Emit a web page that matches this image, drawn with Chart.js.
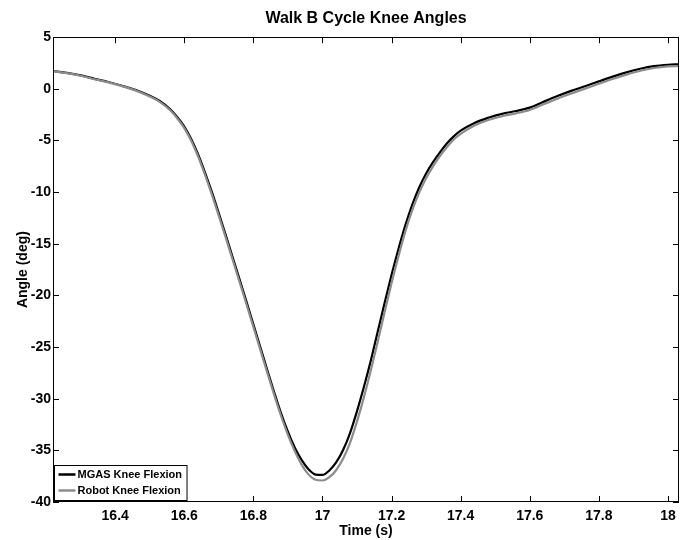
<!DOCTYPE html>
<html>
<head>
<meta charset="utf-8">
<title>Walk B Cycle Knee Angles</title>
<script src="https://cdn.jsdelivr.net/npm/chart.js@4.4.0/dist/chart.umd.min.js"></script>
<style>
  html, body { margin: 0; padding: 0; background: #fff; }
  #wrap { width: 690px; height: 540px; }
</style>
</head>
<body>
<div id="wrap"><canvas id="kneeChart" width="690" height="540"></canvas></div>
<script>
// ---- data ----
const timeS = [
  16.22, 16.26, 16.30, 16.34, 16.38, 16.42, 16.46, 16.50, 16.53, 16.56,
  16.58, 16.60, 16.62, 16.64, 16.66, 16.68, 16.70, 16.72, 16.74, 16.76,
  16.78, 16.80, 16.82, 16.84, 16.86, 16.88, 16.90, 16.92, 16.94, 16.96,
  16.98, 17.00, 17.02, 17.04, 17.06, 17.08, 17.10, 17.12, 17.14, 17.16,
  17.18, 17.20, 17.22, 17.24, 17.26, 17.28, 17.30, 17.32, 17.34, 17.36,
  17.38, 17.40, 17.44, 17.48, 17.52, 17.56, 17.60, 17.64, 17.68, 17.72,
  17.76, 17.80, 17.84, 17.88, 17.92, 17.96, 18.00, 18.03
];
const mgasKnee = [
  1.73, 1.55, 1.30, 0.97, 0.66, 0.30, -0.12, -0.68, -1.20, -2.00,
  -2.75, -3.65, -4.85, -6.35, -8.10, -10.0, -12.05, -14.15, -16.3, -18.45,
  -20.6, -22.8, -25.0, -27.2, -29.35, -31.4, -33.2, -34.75, -35.95, -36.85,
  -37.35, -37.38, -36.95, -36.15, -34.95, -33.3, -31.2, -28.85, -26.3, -23.5,
  -20.7, -18.0, -15.5, -13.2, -11.2, -9.55, -8.2, -7.1, -6.15, -5.3,
  -4.6, -4.05, -3.3, -2.8, -2.42, -2.15, -1.82, -1.25, -0.7, -0.2,
  0.25, 0.72, 1.18, 1.6, 1.95, 2.2, 2.33, 2.38
];
const robotKnee = [
  1.70, 1.52, 1.27, 0.93, 0.62, 0.26, -0.17, -0.74, -1.28, -2.10,
  -2.87, -3.80, -5.02, -6.55, -8.32, -10.25, -12.3, -14.4, -16.55, -18.7,
  -20.85, -23.05, -25.25, -27.45, -29.6, -31.65, -33.5, -35.1, -36.4, -37.35,
  -37.85, -37.92, -37.6, -36.9, -35.8, -34.25, -32.2, -29.85, -27.25, -24.45,
  -21.6, -18.8, -16.2, -13.8, -11.75, -10.05, -8.65, -7.5, -6.5, -5.65,
  -4.9, -4.35, -3.55, -3.02, -2.65, -2.38, -2.05, -1.5, -0.95, -0.45,
  0.02, 0.5, 0.96, 1.38, 1.75, 2.02, 2.17, 2.2
];
const seriesNames = ['MGAS Knee Flexion', 'Robot Knee Flexion'];
const xTicks = [16.4, 16.6, 16.8, 17, 17.2, 17.4, 17.6, 17.8, 18];
const yTicks = [5, 0, -5, -10, -15, -20, -25, -30, -35, -40];

const LINE_BLACK = '#000000';
const LINE_GRAY = '#8c8c8c';
const FONT_FAMILY = "'Liberation Sans', Arial, Helvetica, sans-serif";

function toPoints(vals) {
  return timeS.map((t, i) => ({ x: t, y: vals[i] }));
}

// MATLAB style box with inward ticks on all four sides
const framePlugin = {
  id: 'matlabFrame',
  afterDatasetsDraw(chart) {
    const { ctx, chartArea: a, scales } = chart;
    const tickLen = 6;
    ctx.save();
    ctx.strokeStyle = '#000';
    ctx.lineWidth = 1;
    ctx.beginPath();
    xTicks.forEach(v => {
      const px = Math.round(scales.x.getPixelForValue(v)) + 0.5;
      ctx.moveTo(px, a.bottom); ctx.lineTo(px, a.bottom - tickLen);
      ctx.moveTo(px, a.top); ctx.lineTo(px, a.top + tickLen);
    });
    yTicks.forEach(v => {
      const py = Math.round(scales.y.getPixelForValue(v)) + 0.5;
      ctx.moveTo(a.left, py); ctx.lineTo(a.left + tickLen, py);
      ctx.moveTo(a.right, py); ctx.lineTo(a.right - tickLen, py);
    });
    ctx.stroke();
    ctx.strokeRect(Math.round(a.left) + 0.5, Math.round(a.top) + 0.5,
      Math.round(a.right - a.left) - 1, Math.round(a.bottom - a.top) - 1);
    ctx.restore();
  }
};

// legend box in the lower left corner, inside the axes
const insideLegend = {
  id: 'insideLegend',
  afterDraw(chart) {
    const { ctx, chartArea: a } = chart;
    const colors = [LINE_BLACK, LINE_GRAY];
    ctx.save();
    ctx.font = 'bold 11px ' + FONT_FAMILY;
    const textW = Math.max(...seriesNames.map(s => ctx.measureText(s).width));
    const left = Math.round(a.left) + 1.5;
    const bottom = Math.round(a.bottom) - 1.5;
    const rowH = 16;
    const top = bottom - rowH * 2 - 3;
    const width = 24 + textW + 4;
    ctx.fillStyle = '#fff';
    ctx.fillRect(left, top, width, bottom - top);
    ctx.strokeStyle = '#000';
    ctx.lineWidth = 1;
    ctx.strokeRect(left, top, width, bottom - top);
    seriesNames.forEach((name, i) => {
      const cy = top + 9 + i * rowH;
      ctx.strokeStyle = colors[i];
      ctx.lineWidth = 2.5;
      ctx.beginPath();
      ctx.moveTo(left + 4, cy);
      ctx.lineTo(left + 21, cy);
      ctx.stroke();
      ctx.fillStyle = '#000';
      ctx.textBaseline = 'middle';
      ctx.textAlign = 'left';
      ctx.fillText(name, left + 23, cy + 0.5);
    });
    ctx.restore();
  }
};

const ctx = document.getElementById('kneeChart').getContext('2d');
new Chart(ctx, {
  type: 'line',
  data: {
    datasets: [
      {
        label: seriesNames[0],
        data: toPoints(mgasKnee),
        borderColor: LINE_BLACK,
        borderWidth: 2.2,
        pointRadius: 0,
        cubicInterpolationMode: 'monotone',
        order: 1
      },
      {
        label: seriesNames[1],
        data: toPoints(robotKnee),
        borderColor: LINE_GRAY,
        borderWidth: 2.2,
        pointRadius: 0,
        cubicInterpolationMode: 'monotone',
        order: 0
      }
    ]
  },
  options: {
    responsive: false,
    animation: false,
    layout: { padding: { top: 0, right: 11, bottom: 0, left: 0 } },
    plugins: {
      legend: { display: false },
      tooltip: { enabled: false },
      title: {
        display: true,
        text: 'Walk B Cycle Knee Angles',
        fullSize: false,
        color: '#000',
        font: { family: FONT_FAMILY, size: 16, weight: 'bold' },
        padding: { top: 9, bottom: 9 }
      }
    },
    scales: {
      x: {
        type: 'linear',
        min: 16.22,
        max: 18.032,
        grid: { display: false, drawTicks: false },
        border: { display: false },
        afterBuildTicks: scale => { scale.ticks = xTicks.map(v => ({ value: v })); },
        afterFit: scale => { scale.height = 38; },
        ticks: {
          color: '#000',
          padding: 6,
          maxRotation: 0,
          autoSkip: false,
          font: { family: FONT_FAMILY, size: 14, weight: 'bold' },
          callback: v => String(Number(v.toFixed(1)))
        },
        title: {
          display: true,
          text: 'Time (s)',
          color: '#000',
          font: { family: FONT_FAMILY, size: 14, weight: 'bold' },
          padding: { top: 0, bottom: 0 }
        }
      },
      y: {
        type: 'linear',
        min: -40,
        max: 5,
        grid: { display: false, drawTicks: false },
        border: { display: false },
        afterBuildTicks: scale => { scale.ticks = yTicks.map(v => ({ value: v })); },
        afterFit: scale => { scale.width = 53; },
        ticks: {
          color: '#000',
          padding: 2,
          autoSkip: false,
          font: { family: FONT_FAMILY, size: 14, weight: 'bold' },
          callback: v => String(v)
        },
        title: {
          display: true,
          text: 'Angle (deg)',
          color: '#000',
          font: { family: FONT_FAMILY, size: 14, weight: 'bold' },
          padding: { top: 15, bottom: 0 }
        }
      }
    }
  },
  plugins: [framePlugin, insideLegend]
});
</script>
</body>
</html>
